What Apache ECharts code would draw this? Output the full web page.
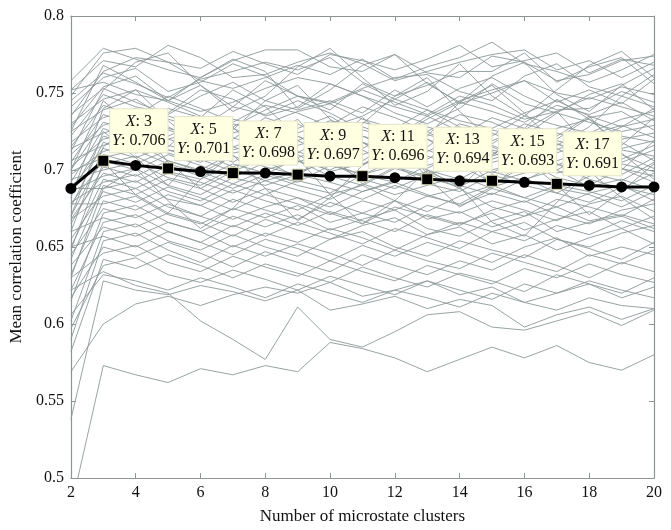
<!DOCTYPE html>
<html>
<head>
<meta charset="utf-8">
<script src="https://cdn.jsdelivr.net/npm/echarts@6/dist/echarts.min.js"></script>
<style>html,body{margin:0;padding:0;background:#fff}#c{width:671px;height:530px}</style>
</head>
<body>
<div id="c"></div>
<script>
// x values: number of microstate clusters
var clusters = [2,3,4,5,6,7,8,9,10,11,12,13,14,15,16,17,18,19,20];
// mean correlation coefficient across subjects
var meanValues = [0.688,0.706,0.703,0.701,0.699,0.698,0.698,0.697,0.696,0.696,0.695,0.694,0.693,0.693,0.692,0.691,0.690,0.689,0.689];
// clusters that carry a data tip
var tipClusters = [3,5,7,9,11,13,15,17];
var yTicks = [0.5,0.55,0.6,0.65,0.7,0.75,0.8];
// individual subject curves
var subjects = [
[.748,.776,.779,.770,.766,.777,.769,.762,.775,.771,.765,.772,.781,.767,.771,.776,.763,.772,.768],
[.752,.771,.767,.781,.773,.760,.762,.770,.776,.769,.758,.764,.770,.775,.778,.765,.771,.760,.770],
[.758,.779,.772,.765,.760,.771,.778,.778,.767,.764,.775,.763,.760,.774,.770,.758,.762,.771,.774],
[.735,.764,.773,.770,.758,.753,.760,.768,.762,.772,.759,.767,.773,.783,.769,.764,.757,.765,.775],
[.745,.763,.756,.747,.759,.764,.770,.765,.773,.757,.748,.755,.764,.764,.776,.757,.767,.773,.756],
[.741,.760,.766,.751,.757,.769,.761,.748,.744,.753,.760,.762,.751,.745,.761,.769,.754,.748,.762],
[.752,.757,.749,.745,.738,.744,.753,.760,.756,.748,.741,.735,.745,.752,.758,.750,.746,.754,.749],
[.728,.754,.761,.745,.755,.741,.758,.748,.739,.756,.746,.757,.743,.750,.758,.744,.752,.743,.759],
[.736,.753,.744,.736,.748,.757,.745,.739,.745,.737,.752,.741,.753,.760,.748,.739,.740,.751,.744],
[.722,.749,.741,.737,.752,.746,.735,.741,.756,.748,.737,.730,.740,.756,.743,.737,.749,.756,.739],
[.730,.746,.752,.744,.735,.728,.739,.748,.743,.752,.744,.736,.748,.742,.733,.738,.747,.741,.735],
[.715,.742,.735,.748,.740,.731,.742,.737,.728,.735,.746,.739,.732,.727,.737,.745,.735,.728,.740],
[.725,.739,.746,.733,.727,.741,.736,.745,.737,.726,.721,.733,.744,.738,.731,.742,.736,.744,.732],
[.705,.736,.729,.740,.734,.724,.730,.738,.743,.733,.727,.739,.728,.722,.735,.729,.724,.733,.738],
[.718,.734,.740,.727,.722,.733,.728,.719,.729,.741,.734,.725,.736,.731,.722,.737,.731,.725,.729],
[.700,.731,.725,.735,.729,.720,.734,.727,.735,.722,.716,.728,.722,.734,.727,.720,.734,.738,.726],
[.710,.729,.736,.722,.731,.727,.719,.724,.732,.728,.721,.735,.725,.717,.730,.724,.718,.728,.733],
[.692,.727,.719,.728,.718,.730,.725,.716,.722,.731,.726,.715,.730,.724,.715,.727,.733,.722,.718],
[.714,.724,.730,.720,.726,.715,.722,.730,.719,.714,.725,.720,.712,.726,.721,.713,.723,.729,.721],
[.684,.722,.716,.726,.719,.713,.718,.711,.724,.718,.711,.723,.717,.710,.723,.717,.711,.720,.724],
[.702,.720,.725,.713,.710,.721,.714,.722,.713,.706,.718,.712,.722,.716,.708,.719,.714,.707,.716],
[.676,.718,.711,.720,.714,.705,.717,.708,.716,.722,.713,.707,.719,.709,.716,.711,.720,.713,.709],
[.706,.716,.722,.711,.705,.715,.709,.719,.710,.703,.714,.720,.708,.715,.706,.717,.709,.714,.719],
[.688,.714,.708,.716,.711,.702,.710,.705,.713,.718,.707,.701,.712,.707,.714,.703,.712,.718,.706],
[.697,.712,.718,.706,.700,.711,.715,.706,.700,.710,.717,.709,.702,.713,.708,.700,.711,.705,.713],
[.670,.710,.704,.713,.707,.699,.708,.712,.704,.697,.706,.713,.705,.698,.710,.714,.703,.697,.708],
[.699,.708,.713,.704,.698,.709,.702,.697,.708,.713,.702,.696,.707,.712,.700,.706,.713,.704,.699],
[.678,.706,.700,.710,.703,.695,.705,.710,.699,.704,.709,.700,.694,.705,.710,.698,.704,.710,.701],
[.690,.704,.709,.699,.694,.704,.698,.692,.703,.697,.692,.703,.709,.699,.693,.704,.698,.693,.705],
[.665,.702,.696,.706,.699,.691,.700,.706,.696,.690,.701,.695,.689,.700,.706,.695,.690,.701,.696],
[.694,.700,.705,.695,.690,.701,.693,.699,.705,.694,.688,.697,.703,.692,.698,.704,.694,.688,.698],
[.668,.698,.692,.703,.696,.688,.697,.690,.685,.697,.703,.691,.686,.697,.690,.685,.696,.701,.692],
[.686,.696,.701,.690,.684,.695,.690,.697,.692,.686,.693,.699,.690,.684,.694,.700,.689,.694,.687],
[.650,.694,.688,.698,.692,.685,.693,.687,.681,.691,.684,.690,.696,.688,.682,.690,.686,.680,.690],
[.679,.692,.697,.686,.680,.691,.684,.693,.688,.681,.690,.683,.678,.689,.695,.685,.679,.689,.684],
[.642,.690,.684,.694,.688,.679,.688,.682,.676,.686,.692,.684,.677,.685,.679,.688,.684,.676,.686],
[.688,.688,.693,.681,.677,.687,.680,.674,.684,.690,.680,.673,.683,.690,.682,.676,.685,.690,.680],
[.655,.686,.679,.689,.682,.674,.684,.678,.671,.680,.674,.683,.688,.676,.670,.681,.676,.670,.681],
[.668,.683,.688,.676,.670,.681,.674,.668,.679,.672,.666,.677,.672,.680,.674,.667,.678,.683,.673],
[.632,.680,.674,.684,.677,.668,.676,.682,.672,.665,.676,.670,.664,.674,.680,.671,.665,.674,.678],
[.678,.678,.683,.671,.665,.675,.669,.677,.666,.672,.680,.668,.673,.663,.670,.676,.667,.671,.665],
[.645,.675,.669,.678,.670,.663,.672,.664,.673,.667,.660,.671,.665,.672,.661,.668,.673,.662,.670],
[.615,.672,.677,.666,.660,.670,.663,.671,.661,.668,.674,.662,.657,.667,.673,.660,.666,.670,.662],
[.660,.669,.663,.672,.666,.657,.668,.661,.655,.664,.669,.658,.666,.660,.654,.664,.658,.667,.660],
[.622,.666,.671,.660,.653,.664,.657,.666,.659,.652,.662,.656,.649,.660,.666,.655,.650,.659,.664],
[.638,.663,.657,.666,.660,.650,.659,.653,.662,.656,.648,.658,.663,.652,.658,.648,.656,.662,.652],
[.602,.660,.665,.654,.648,.658,.650,.644,.655,.660,.650,.644,.654,.648,.643,.655,.649,.642,.653],
[.650,.657,.650,.660,.653,.645,.655,.649,.641,.651,.644,.653,.647,.640,.650,.656,.644,.650,.645],
[.590,.654,.659,.648,.640,.651,.644,.652,.646,.638,.648,.641,.636,.646,.640,.634,.645,.639,.648],
[.617,.650,.644,.653,.646,.637,.647,.640,.634,.645,.638,.632,.641,.635,.645,.638,.630,.640,.634],
[.630,.646,.651,.640,.634,.644,.637,.631,.641,.634,.628,.638,.632,.626,.636,.630,.639,.632,.627],
[.582,.642,.636,.645,.638,.630,.639,.633,.627,.637,.630,.624,.633,.628,.621,.632,.626,.620,.630],
[.597,.638,.643,.632,.627,.635,.629,.622,.631,.625,.619,.628,.622,.616,.626,.620,.628,.622,.617],
[.606,.632,.628,.622,.630,.624,.617,.626,.620,.614,.622,.617,.611,.620,.614,.609,.617,.612,.610],
[.569,.600,.613,.618,.612,.619,.624,.620,.627,.618,.622,.628,.619,.624,.614,.620,.626,.617,.624],
[.538,.628,.622,.619,.625,.621,.615,.622,.609,.613,.618,.610,.616,.612,.598,.606,.611,.603,.610],
[.622,.634,.625,.620,.602,.590,.577,.611,.590,.585,.595,.606,.608,.598,.596,.602,.608,.599,.609],
[.480,.573,.567,.562,.571,.567,.573,.569,.588,.584,.578,.569,.577,.585,.578,.586,.575,.570,.580],
[.725,.768,.757,.745,.760,.772,.764,.740,.752,.768,.775,.756,.744,.761,.770,.749,.738,.755,.766],
[.712,.752,.770,.776,.755,.738,.748,.767,.779,.760,.742,.751,.769,.748,.735,.752,.768,.777,.760],
[.700,.745,.727,.715,.734,.752,.741,.722,.711,.730,.748,.760,.738,.719,.727,.746,.733,.716,.734],
[.682,.740,.752,.732,.714,.726,.745,.755,.733,.718,.705,.722,.744,.755,.737,.716,.728,.748,.741],
[.670,.725,.708,.690,.712,.728,.706,.695,.716,.734,.717,.698,.688,.709,.726,.738,.715,.700,.719],
[.660,.715,.731,.705,.688,.699,.720,.733,.710,.691,.702,.725,.713,.690,.703,.722,.735,.711,.694],
[.648,.705,.684,.672,.694,.710,.688,.667,.682,.703,.719,.695,.676,.688,.708,.690,.671,.686,.704],
[.630,.688,.701,.680,.662,.675,.697,.708,.684,.665,.680,.700,.689,.666,.657,.679,.699,.682,.668]
];

var serif = 'Liberation Serif';
var frameColor = '#8e9494';
var series = [];
subjects.forEach(function (row) {
  series.push({
    type: 'line', silent: true, symbol: 'none', z: 1,
    lineStyle: {color: '#8d9999', width: 0.9},
    data: clusters.map(function (x, i) { return [x, row[i]]; })
  });
});
var meanData = clusters.map(function (x, i) {
  var isTip = tipClusters.indexOf(x) >= 0;
  var item = {value: [x, meanValues[i]]};
  if (isTip) {
    item.symbol = 'rect';
    item.symbolSize = 11;
    item.itemStyle = {color: '#000', borderColor: '#d8d8b0', borderWidth: 1};
    item.label = {
      show: true,
      position: [41.5, -2.5],
      align: 'center',
      verticalAlign: 'bottom',
      formatter: '{i|X}: ' + x + '\n{i|Y}: ' + meanValues[i].toFixed(3),
      backgroundColor: '#ffffe1',
      borderColor: '#e4e4cc',
      borderWidth: 1,
      padding: [3, 2, 2, 2],
      fontFamily: serif,
      fontSize: 16,
      lineHeight: 19,
      color: '#111',
      rich: {i: {fontStyle: 'italic', fontFamily: serif, fontSize: 16, lineHeight: 19, color: '#111'}}
    };
  }
  return item;
});
series.push({
  type: 'line', z: 5, symbol: 'circle', symbolSize: 11,
  lineStyle: {color: '#000', width: 3},
  itemStyle: {color: '#000'},
  data: meanData
});

var axisLabelStyle = {fontFamily: serif, fontSize: 16, color: '#111'};
var chart = echarts.init(document.getElementById('c'), null, {renderer: 'canvas'});
chart.setOption({
  animation: false,
  grid: {left: 69, right: 17, top: 16, bottom: 51, containLabel: false},
  xAxis: [{
    type: 'value', min: 2, max: 20, interval: 2, position: 'bottom',
    name: 'Number of microstate clusters', nameLocation: 'middle', nameGap: 30,
    nameTextStyle: {fontFamily: serif, fontSize: 17, color: '#111'},
    axisLine: {show: true, lineStyle: {color: frameColor, width: 1.2}},
    axisTick: {show: true, inside: true, length: 5, lineStyle: {color: frameColor}},
    axisLabel: Object.assign({margin: 7}, axisLabelStyle),
    splitLine: {show: false}
  }, {
    type: 'value', min: 2, max: 20, interval: 2, position: 'top',
    axisLine: {show: true, lineStyle: {color: frameColor, width: 1.2}},
    axisTick: {show: true, inside: true, length: 5, lineStyle: {color: frameColor}},
    axisLabel: {show: false}, splitLine: {show: false}
  }],
  yAxis: [{
    type: 'value', min: 0.5, max: 0.8, interval: 0.05, position: 'left',
    name: 'Mean correlation coefficient', nameLocation: 'middle', nameGap: 44,
    nameTextStyle: {fontFamily: serif, fontSize: 17, color: '#111'},
    axisLine: {show: true, lineStyle: {color: frameColor, width: 1.2}},
    axisTick: {show: true, inside: true, length: 5, lineStyle: {color: frameColor}},
    axisLabel: Object.assign({margin: 7, formatter: function (v) {
      var t = yTicks.filter(function (k) { return Math.abs(k - v) < 1e-9; });
      return t.length ? String(t[0]) : '';
    }}, axisLabelStyle),
    splitLine: {show: false}
  }, {
    type: 'value', min: 0.5, max: 0.8, interval: 0.05, position: 'right',
    axisLine: {show: true, lineStyle: {color: frameColor, width: 1.2}},
    axisTick: {show: true, inside: true, length: 5, lineStyle: {color: frameColor}},
    axisLabel: {show: false}, splitLine: {show: false}
  }],
  series: series
});
</script>
</body>
</html>
